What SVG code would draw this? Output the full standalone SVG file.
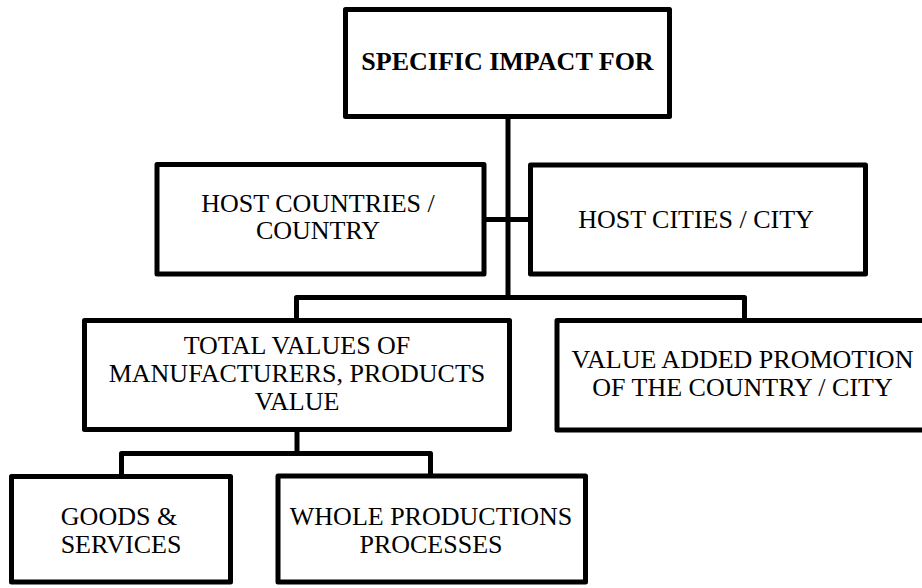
<svg xmlns="http://www.w3.org/2000/svg" width="922" height="588" viewBox="0 0 922 588">
<style>
.box{fill:#fff;stroke:#000;stroke-width:5;stroke-linejoin:round}
.con{fill:none;stroke:#000;stroke-width:5;stroke-linejoin:round}
text{font-family:"Liberation Serif","Times New Roman",serif;font-size:26px;fill:#000;text-anchor:middle}
.b{font-weight:bold}
</style>
<rect width="922" height="588" fill="#fff"/>
<g id="connectors">
<path class="con" d="M508,117 V297.5"/>
<path class="con" d="M484,219.5 H530.5"/>
<path class="con" d="M296.5,320.5 V297.5 H744.5 V320.5"/>
<path class="con" d="M297,430 V453.5"/>
<path class="con" d="M121.5,476.5 V453.5 H430.5 V476"/>
</g>
<g id="n-specific">
<rect class="box" x="345.5" y="9.5" width="324" height="107"/>
<text class="b" x="507.5" y="70">SPECIFIC IMPACT FOR</text>
</g>
<g id="n-host-countries">
<rect class="box" x="157" y="164.5" width="327" height="109.5"/>
<text x="318" y="212">HOST COUNTRIES /</text>
<text x="318" y="239">COUNTRY</text>
</g>
<g id="n-host-cities">
<rect class="box" x="530.5" y="165" width="335" height="109"/>
<text x="696" y="228">HOST CITIES / CITY</text>
</g>
<g id="n-total-values">
<rect class="box" x="84.5" y="320.5" width="425" height="109"/>
<text x="297" y="354">TOTAL VALUES OF</text>
<text x="297" y="382">MANUFACTURERS, PRODUCTS</text>
<text x="297" y="410">VALUE</text>
</g>
<g id="n-value-added">
<rect class="box" x="557" y="320.5" width="380" height="109.5"/>
<text x="742.5" y="368">VALUE ADDED PROMOTION</text>
<text x="742.5" y="396">OF THE COUNTRY / CITY</text>
</g>
<g id="n-goods">
<rect class="box" x="11.5" y="476.5" width="219" height="105.5"/>
<text x="119" y="525">GOODS &amp;</text>
<text x="121" y="553">SERVICES</text>
</g>
<g id="n-whole">
<rect class="box" x="278" y="476" width="307.5" height="106"/>
<text x="431" y="525">WHOLE PRODUCTIONS</text>
<text x="431" y="553">PROCESSES</text>
</g>
</svg>
